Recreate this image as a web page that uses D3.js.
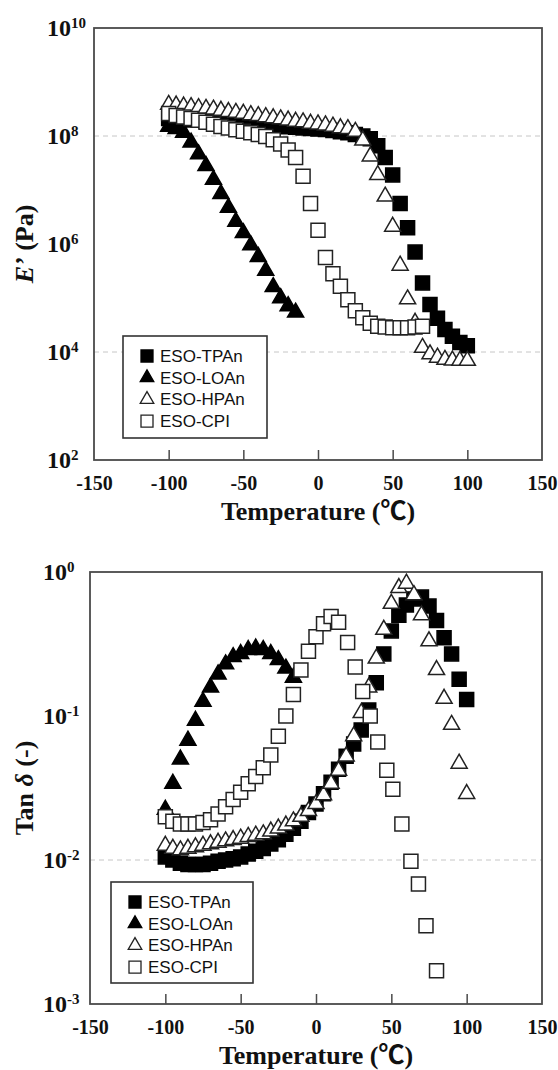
<!DOCTYPE html>
<html>
<head>
<meta charset="utf-8">
<script src="https://cdn.jsdelivr.net/npm/d3@7"></script>
<style>
  body { margin: 0; background: #fff; }
  svg { display: block; }
</style>
</head>
<body>
<svg id="chart" width="558" height="1070"></svg>
<script>
// ---- data ----
const seriesNames = ["ESO-TPAn", "ESO-LOAn", "ESO-HPAn", "ESO-CPI"];
const xTicks = [-150, -100, -50, 0, 50, 100, 150];
const modTicks = [1e10, 1e8, 1e6, 1e4, 1e2];
const tanTicks = [1, 1e-1, 1e-2, 1e-3];
const modGrid = [1e8, 1e4];
const tanGrid = [1e-2];

const temps = [-100,-95,-90,-85,-80,-75,-70,-65,-60,-55,-50,-45,-40,-35,-30,-25,-20,-15,-10,-5,
  0,5,10,15,20,25,30,35,40,45,50,55,60,65,70,75,80,85,90,95,100];
const tempsLOAn = [-100,-95,-90,-85,-80,-75,-70,-65,-60,-55,-50,-45,-40,-35,-30,-25,-20,-15];
const tempsCPIMod = [-100,-95,-90,-85,-80,-75,-70,-65,-60,-55,-50,-45,-40,-35,-30,-25,-20,-15,-10,-5,
  0,5,10,15,20,25,30,35,40,45,50,55,60,65,70];
const tempsCPITan = [-100,-95,-90,-85,-80,-75,-70,-65,-60,-55,-50,-45,-40,-35,-30,-25,-20,-15,-10,-5,
  0,5,10,15,21,26,31,36,41,47,51,57,63,68,73,80];

// storage modulus E' (Pa)
const modTPAn = [2.1e8,2.1e8,2.0e8,2.0e8,1.95e8,1.9e8,1.85e8,1.8e8,1.78e8,1.74e8,1.7e8,1.66e8,1.62e8,1.58e8,
  1.55e8,1.51e8,1.48e8,1.45e8,1.41e8,1.38e8,1.35e8,1.32e8,1.26e8,1.2e8,1.15e8,1.07e8,1.0e8,8.9e7,6.6e7,
  4.0e7,1.9e7,5.6e6,2.0e6,7.1e5,1.9e5,7.6e4,4.2e4,2.6e4,1.95e4,1.5e4,1.3e4];
const modLOAn = [1.5e8,1.35e8,1.15e8,7.6e7,4.6e7,2.8e7,1.55e7,8.5e6,4.7e6,2.6e6,1.6e6,9.5e5,5.8e5,3.2e5,
  1.6e5,1.0e5,7.1e4,5.4e4];
const modHPAn = [3.8e8,3.7e8,3.55e8,3.45e8,3.3e8,3.2e8,3.1e8,2.95e8,2.8e8,2.7e8,2.6e8,2.45e8,2.35e8,2.25e8,
  2.15e8,2.05e8,1.95e8,1.85e8,1.8e8,1.7e8,1.65e8,1.58e8,1.5e8,1.4e8,1.35e8,1.2e8,8.3e7,4.2e7,1.9e7,7.6e6,
  2.1e6,4.0e5,9.5e4,3.5e4,1.2e4,9.1e3,7.9e3,7.2e3,7.0e3,6.9e3,6.9e3];
const modCPI = [2.6e8,2.4e8,2.25e8,2.1e8,1.95e8,1.8e8,1.65e8,1.5e8,1.4e8,1.3e8,1.23e8,1.15e8,1.07e8,9.8e7,
  8.5e7,7.1e7,5.5e7,4.0e7,1.8e7,5.6e6,1.8e6,5.6e5,2.8e5,1.65e5,9.3e4,5.8e4,4.3e4,3.4e4,3.0e4,2.9e4,2.8e4,
  2.8e4,2.8e4,2.9e4,3.0e4];

// loss factor tan delta
const tanTPAn = [0.0105,0.0100,0.0095,0.0093,0.0093,0.0093,0.0095,0.0098,0.0100,0.0102,0.0105,0.011,0.0115,
  0.012,0.0129,0.0138,0.0151,0.0166,0.0186,0.0214,0.0245,0.0288,0.0347,0.0427,0.0525,0.064,0.080,0.110,
  0.170,0.27,0.39,0.50,0.59,0.65,0.67,0.58,0.46,0.35,0.27,0.18,0.13];
const tanLOAn = [0.0224,0.0339,0.050,0.0676,0.093,0.126,0.158,0.195,0.229,0.257,0.27,0.288,0.295,0.288,
  0.27,0.245,0.214,0.185];
const tanHPAn = [0.0126,0.012,0.0117,0.012,0.0123,0.0126,0.0129,0.0132,0.0135,0.0138,0.0141,0.0145,0.0148,
  0.0151,0.0158,0.0166,0.0174,0.0186,0.020,0.0219,0.0245,0.0282,0.0339,0.0417,0.0525,0.0724,0.105,0.158,
  0.251,0.398,0.603,0.776,0.832,0.692,0.501,0.331,0.209,0.132,0.087,0.0468,0.0288];
const tanCPI = [0.020,0.0186,0.0178,0.0178,0.0178,0.0182,0.019,0.0209,0.0234,0.0263,0.0295,0.0339,0.038,
  0.0437,0.0537,0.0724,0.10,0.141,0.209,0.282,0.355,0.437,0.49,0.447,0.324,0.219,0.148,0.10,0.066,0.042,
  0.031,0.0178,0.0098,0.0068,0.0035,0.0017];

// ---- drawing ----
const svg = d3.select("#chart");
const serif = "'Liberation Serif', 'Times New Roman', 'Noto Sans CJK JP', serif";
const sans = "'Liberation Sans', Arial, sans-serif";

const markers = [
  { type: d3.symbolSquare, size: 196, fill: "#000", stroke: "#000" },
  { type: d3.symbolTriangle, size: 112, fill: "#000", stroke: "#000" },
  { type: d3.symbolTriangle, size: 112, fill: "#fff", stroke: "#222" },
  { type: d3.symbolSquare, size: 196, fill: "#fff", stroke: "#222" }
];

const panels = [
  {
    left: 94, right: 542, top: 28, bottom: 460,
    yDomain: [1e2, 1e10], yTicks: modTicks, grid: modGrid, labelX: 47,
    series: [[temps, modTPAn], [tempsLOAn, modLOAn], [temps, modHPAn], [tempsCPIMod, modCPI]],
    legend: { x: 123, y: 336, w: 144, h: 102 },
    yTitle: "top"
  },
  {
    left: 90, right: 542, top: 572, bottom: 1004,
    yDomain: [1e-3, 1], yTicks: tanTicks, grid: tanGrid, labelX: 43,
    series: [[temps, tanTPAn], [tempsLOAn, tanLOAn], [temps, tanHPAn], [tempsCPITan, tanCPI]],
    legend: { x: 111, y: 882, w: 142, h: 101 },
    yTitle: "bottom"
  }
];

panels.forEach(p => {
  const x = d3.scaleLinear().domain([-150, 150]).range([p.left, p.right]);
  const y = d3.scaleLog().domain(p.yDomain).range([p.bottom, p.top]);
  const g = svg.append("g");

  g.selectAll(".grid").data(p.grid).join("line")
    .attr("x1", p.left).attr("x2", p.right)
    .attr("y1", d => y(d)).attr("y2", d => y(d))
    .attr("stroke", "#c6c6c6").attr("stroke-width", 1)
    .attr("stroke-dasharray", "5,4");

  p.series.forEach((s, i) => {
    const m = markers[i];
    const pts = s[0].map((t, j) => [t, s[1][j]]);
    g.append("g").selectAll("path").data(pts).join("path")
      .attr("d", d3.symbol().type(m.type).size(m.size)())
      .attr("transform", d => `translate(${x(d[0])},${y(d[1])})`)
      .attr("fill", m.fill).attr("stroke", m.stroke).attr("stroke-width", 1.5);
  });

  g.append("rect")
    .attr("x", p.left).attr("y", p.top)
    .attr("width", p.right - p.left).attr("height", p.bottom - p.top)
    .attr("fill", "none").attr("stroke", "#4a4a4a").attr("stroke-width", 1.8);

  // x axis (inward ticks)
  const ax = g.append("g")
    .attr("transform", `translate(0,${p.bottom})`)
    .call(d3.axisBottom(x).tickValues(xTicks).tickSize(-10).tickPadding(16).tickFormat(d3.format("d")));
  ax.select(".domain").remove();
  ax.selectAll(".tick line")
    .attr("stroke", "#4a4a4a").attr("stroke-width", 1.5)
    .attr("display", d => (d === -150 || d === 150) ? "none" : null);
  ax.selectAll(".tick text")
    .attr("font-family", serif).attr("font-weight", "bold").attr("font-size", 20)
    .attr("fill", "#111").text(d => d < 0 ? "-" + Math.abs(d) : d);

  // y tick labels with superscript exponents
  p.yTicks.forEach(v => {
    const e = Math.round(Math.log10(v));
    const t = g.append("text")
      .attr("x", p.labelX).attr("y", y(v) + 8)
      .attr("font-family", serif).attr("font-weight", "bold").attr("fill", "#111");
    t.append("tspan").attr("font-size", 24).text("10");
    t.append("tspan").attr("font-size", 15).attr("dy", -8).text(e < 0 ? "-" + Math.abs(e) : e);
  });

  // x title
  g.append("text")
    .attr("x", (p.left + p.right) / 2).attr("y", p.bottom + 60)
    .attr("text-anchor", "middle")
    .attr("font-family", serif).attr("font-weight", "bold").attr("font-size", 26)
    .attr("fill", "#111").text("Temperature (℃)");

  // y title
  const yt = g.append("text")
    .attr("transform", `translate(33,${(p.top + p.bottom) / 2}) rotate(-90)`)
    .attr("text-anchor", "middle")
    .attr("font-family", serif).attr("font-weight", "bold").attr("font-size", 26)
    .attr("fill", "#111");
  if (p.yTitle === "top") {
    yt.append("tspan").attr("font-style", "italic").text("E’");
    yt.append("tspan").text(" (Pa)");
  } else {
    yt.append("tspan").text("Tan ");
    yt.append("tspan").attr("font-style", "italic").text("δ");
    yt.append("tspan").text(" (-)");
  }

  // legend
  const L = p.legend;
  const lg = g.append("g");
  lg.append("rect")
    .attr("x", L.x).attr("y", L.y).attr("width", L.w).attr("height", L.h)
    .attr("fill", "#fff").attr("stroke", "#333").attr("stroke-width", 1.6);
  seriesNames.forEach((name, i) => {
    const m = markers[i];
    const cy = L.y + 20 + i * 21.7;
    lg.append("path")
      .attr("d", d3.symbol().type(m.type).size(m.type === d3.symbolSquare ? 144 : 80)())
      .attr("transform", `translate(${L.x + 24},${cy})`)
      .attr("fill", m.fill).attr("stroke", m.stroke).attr("stroke-width", 1.3);
    lg.append("text")
      .attr("x", L.x + 37).attr("y", cy + 6)
      .attr("font-family", sans).attr("font-size", 17).attr("fill", "#111")
      .text(name);
  });
});
</script>
</body>
</html>
